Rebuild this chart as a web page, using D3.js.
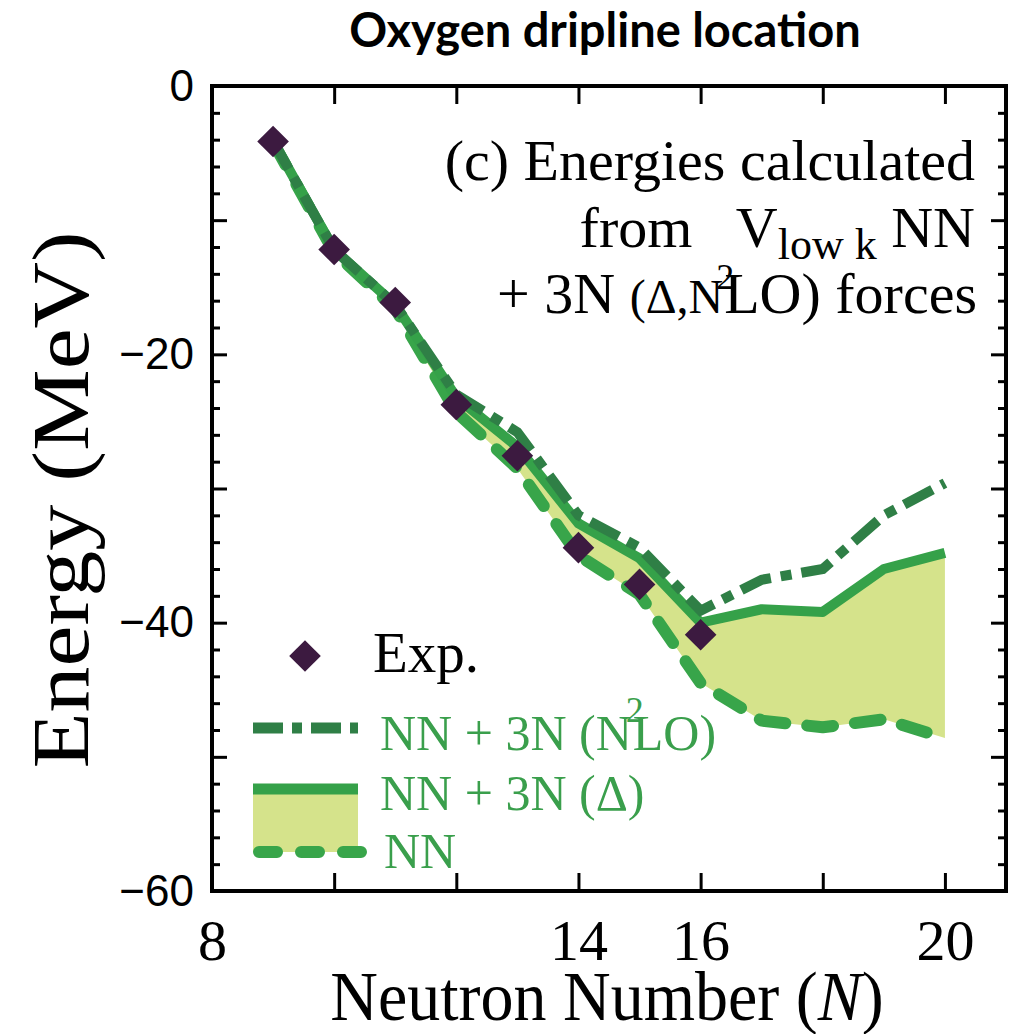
<!DOCTYPE html>
<meta charset="utf-8">
<title>Oxygen dripline location</title>
<style>
body { margin: 0; background: #fff; }
.tick line { stroke: #000; stroke-width: 3px; }
.ytick text { font-family: "Liberation Sans", Arial, sans-serif; font-size: 44px; fill: #000; }
.xtick text { font-family: "Liberation Serif", serif; font-size: 58px; fill: #000; }
</style>
<body>
<div id="chart"></div>
<script src="https://cdn.jsdelivr.net/npm/d3@7"></script>
<script>

// data
const neutrons = [9, 10, 11, 12, 13, 14, 15, 16, 17, 18, 19, 20];
const expN = [9, 10, 11, 12, 13, 14, 15, 16];
const expEnergy = [-4.14, -12.19, -16.14, -23.75, -27.56, -34.41, -37.15, -40.9];
const deltaEnergy = [-4.1, -12.2, -16.3, -23.2, -26.9, -32.6, -35.2, -40.0, -39.0, -39.2, -36.0, -34.8];
const n2loEnergy  = [-4.1, -12.2, -16.3, -23.0, -25.8, -32.0, -34.4, -39.1, -36.8, -36.0, -32.0, -29.6];
const nnEnergy    = [-4.2, -12.4, -16.6, -24.3, -28.5, -35.0, -37.9, -44.5, -47.3, -47.8, -47.2, -48.6];
const xTicks = [8, 10, 12, 14, 16, 18, 20];
const xLabels = [8, 14, 16, 20];

const width = 1028, height = 1034;
const margin = {top: 86, right: 22, bottom: 143, left: 212};
const innerW = width - margin.left - margin.right;
const innerH = height - margin.top - margin.bottom;

const colDelta = "#35a149", colN2lo = "#2f7f46", colNN = "#38a54a",
      colFill = "#d5e38b", colExp = "#3c1a40", colText = "#3a9f4c";
const serif = "'Liberation Serif', 'Times New Roman', serif";

const svg = d3.select("#chart").append("svg")
    .attr("width", width).attr("height", height);

const x = d3.scaleLinear().domain([8, 21]).range([0, innerW]);
const y = d3.scaleLinear().domain([-60, 0]).range([innerH, 0]);

const g = svg.append("g").attr("transform", `translate(${margin.left},${margin.top})`);

// title
svg.append("text")
    .attr("x", 605).attr("y", 47)
    .attr("text-anchor", "middle")
    .style("font-family", "Lato, 'Open Sans', sans-serif")
    .style("font-weight", 700).style("font-size", "47px")
    .text("Oxygen dripline location");

// band between NN and NN+3N(delta)
const rows = neutrons.map((n, i) => ({n, d: deltaEnergy[i], t: n2loEnergy[i], nn: nnEnergy[i]}));

g.append("path").datum(rows)
    .attr("fill", colFill)
    .attr("d", d3.area().x(d => x(d.n)).y0(d => y(d.nn)).y1(d => y(d.d)));

const line = key => d3.line().x(d => x(d.n)).y(d => y(d[key]));

g.append("path").datum(rows)
    .attr("fill", "none").attr("stroke", colNN).attr("stroke-width", 12)
    .attr("stroke-linecap", "round").attr("stroke-linejoin", "round")
    .attr("stroke-dasharray", "26,22")
    .attr("d", line("nn"));

g.append("path").datum(rows)
    .attr("fill", "none").attr("stroke", colDelta).attr("stroke-width", 10)
    .attr("stroke-linejoin", "round")
    .attr("d", line("d"));

g.append("path").datum(rows)
    .attr("fill", "none").attr("stroke", colN2lo).attr("stroke-width", 10)
    .attr("stroke-dasharray", "32,10,11,10")
    .attr("d", line("t"));

const diamond = d3.symbol().type(d3.symbolSquare).size(500);
g.selectAll(".exp").data(expN)
    .enter().append("path")
    .attr("class", "exp")
    .attr("fill", colExp)
    .attr("transform", (n, i) => `translate(${x(n)},${y(expEnergy[i])}) rotate(45)`)
    .attr("d", diamond);

// axes, ticks pointing inwards
const fmt = d3.format("d");
g.append("g").attr("class", "ytick")
    .call(d3.axisLeft(y).tickValues(d3.range(-60, 1, 10)).tickSize(-15).tickPadding(18)
        .tickFormat(d => d % 20 === 0 ? fmt(d) : ""));
g.append("g").attr("class", "ytick")
    .call(d3.axisLeft(y).tickValues(d3.range(-58, 0, 2).filter(d => d % 10 !== 0)).tickSize(-8).tickFormat(""));
g.append("g").attr("class", "ytick").attr("transform", `translate(${innerW},0)`)
    .call(d3.axisRight(y).tickValues(d3.range(-60, 1, 10)).tickSize(-15).tickFormat(""));
g.append("g").attr("class", "ytick").attr("transform", `translate(${innerW},0)`)
    .call(d3.axisRight(y).tickValues(d3.range(-58, 0, 2).filter(d => d % 10 !== 0)).tickSize(-8).tickFormat(""));
g.append("g").attr("class", "xtick").attr("transform", `translate(0,${innerH})`)
    .call(d3.axisBottom(x).tickValues(xTicks).tickSize(-18).tickPadding(28)
        .tickFormat(d => xLabels.includes(d) ? d : ""));
g.append("g").attr("class", "xtick")
    .call(d3.axisTop(x).tickValues(xTicks).tickSize(-18).tickFormat(""));
g.selectAll(".domain").remove();

g.append("rect")
    .attr("width", innerW).attr("height", innerH)
    .attr("fill", "none").attr("stroke", "#000").attr("stroke-width", 4);

// axis titles
svg.append("text")
    .attr("transform", "translate(88,500) rotate(-90) scale(1.15,1)")
    .attr("text-anchor", "middle")
    .style("font-family", serif)
    .style("font-size", "80px")
    .text("Energy (MeV)");

const xt = svg.append("text")
    .attr("transform", "translate(607,1020) scale(1,1.05)")
    .attr("text-anchor", "middle")
    .style("font-family", serif)
    .style("font-size", "66px");
xt.append("tspan").text("Neutron Number (");
xt.append("tspan").style("font-style", "italic").text("N");
xt.append("tspan").text(")");

// annotation
svg.append("text")
    .attr("text-anchor", "end").attr("x", 975).attr("y", 180)
    .style("font-family", serif).style("font-size", "58px")
    .text("(c) Energies calculated");

const l2 = svg.append("text")
    .attr("text-anchor", "end").attr("x", 975).attr("y", 247)
    .style("font-family", serif).style("font-size", "58px");
l2.append("tspan").text("from\u00a0\u00a0\u00a0V");
l2.append("tspan").attr("dy", 12).style("font-size", "44px").text("low k");
l2.append("tspan").attr("dy", -12).text(" NN");

const l3 = svg.append("text")
    .attr("text-anchor", "end").attr("x", 977).attr("y", 313)
    .style("font-family", serif).style("font-size", "58px");
l3.append("tspan").text("+ 3N ");
l3.append("tspan").style("font-size", "48px").text("(\u0394,N");
l3.append("tspan").attr("dy", -24).attr("dx", -7).style("font-size", "36px").text("2");
l3.append("tspan").attr("dy", 24).attr("dx", -10).text("LO) forces");

// legend
const leg = svg.append("g");
leg.append("path")
    .attr("fill", colExp)
    .attr("transform", "translate(305,656) rotate(45)")
    .attr("d", diamond);
leg.append("text")
    .attr("x", 373).attr("y", 672)
    .style("font-family", serif).style("font-size", "57px").text("Exp.");

leg.append("line")
    .attr("x1", 253).attr("x2", 358).attr("y1", 728).attr("y2", 728)
    .attr("stroke", colN2lo).attr("stroke-width", 11)
    .attr("stroke-dasharray", "30,9,10,9");
const t1 = leg.append("text")
    .attr("x", 380).attr("y", 750).attr("fill", colText)
    .style("font-family", serif).style("font-size", "50px");
t1.append("tspan").text("NN + 3N (N");
t1.append("tspan").attr("dy", -28).attr("dx", -6).style("font-size", "36px").text("2");
t1.append("tspan").attr("dy", 28).attr("dx", -11).text("LO)");

leg.append("rect")
    .attr("x", 253).attr("y", 789).attr("width", 105).attr("height", 63)
    .attr("fill", colFill);
leg.append("line")
    .attr("x1", 253).attr("x2", 358).attr("y1", 789).attr("y2", 789)
    .attr("stroke", colDelta).attr("stroke-width", 11);
leg.append("line")
    .attr("x1", 259).attr("x2", 362).attr("y1", 852).attr("y2", 852)
    .attr("stroke", colNN).attr("stroke-width", 12)
    .attr("stroke-linecap", "round")
    .attr("stroke-dasharray", "18,24");
leg.append("text")
    .attr("x", 380).attr("y", 810).attr("fill", colText)
    .style("font-family", serif).style("font-size", "50px")
    .text("NN + 3N (\u0394)");
leg.append("text")
    .attr("x", 384).attr("y", 868).attr("fill", colText)
    .style("font-family", serif).style("font-size", "50px")
    .text("NN");

</script>
</body>
